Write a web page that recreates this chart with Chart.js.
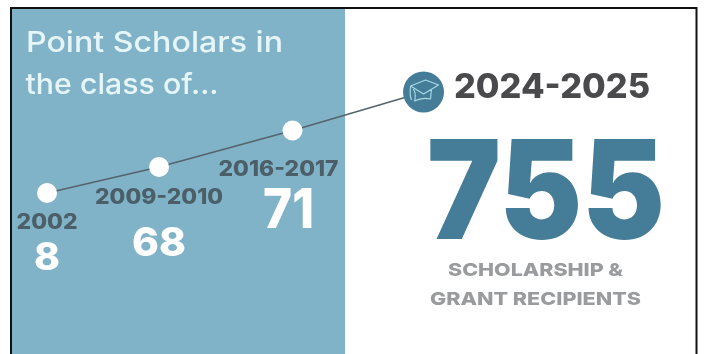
<!DOCTYPE html>
<html>
<head>
<meta charset="utf-8">
<style>
  html, body { margin: 0; padding: 0; background: #fff; }
  canvas { display: block; }
</style>
<script src="https://cdn.jsdelivr.net/npm/chart.js@4"></script>
</head>
<body>
<canvas id="chart" width="704" height="354"></canvas>
<script>
// Point Scholars per class period
const periods = ['2002', '2009-2010', '2016-2017', '2024-2025'];
const startYears = [2002, 2009, 2016, 2024];
const scholars = [8, 68, 71, 755];

const pageTitle = ['Point Scholars in', 'the class of...'];
const caption = ['SCHOLARSHIP &', 'GRANT RECIPIENTS'];

// The timeline is schematic, not proportional: each axis maps its known
// values onto chosen fractions of the canvas and interpolates between them.
class SchematicScale extends Chart.LinearScale {
  getPixelForValue(value) {
    const stops = this.options.stops;
    let i = 0;
    while (i < stops.length - 2 && value > stops[i + 1][0]) i++;
    const [v0, f0] = stops[i];
    const [v1, f1] = stops[i + 1];
    const fraction = f0 + (value - v0) / (v1 - v0) * (f1 - f0);
    return this.getPixelForDecimal(fraction);
  }
}
SchematicScale.id = 'schematic';
SchematicScale.defaults = Chart.LinearScale.defaults;
Chart.register(SchematicScale);

const PANEL = '#80b3c7';
const INK = '#4c5f69';
const TEAL = '#457c97';

const fontStack = 'Inter, "Open Sans", sans-serif';

// Draws a text centred on cx, squeezed or stretched to the given width.
function fitted(ctx, text, cx, baseline, size, weight, width, color) {
  ctx.save();
  ctx.font = `${weight} ${size}px ${fontStack}`;
  ctx.fillStyle = color;
  ctx.textAlign = 'center';
  ctx.textBaseline = 'alphabetic';
  const natural = ctx.measureText(text).width;
  ctx.translate(cx, baseline);
  ctx.scale(width / natural, 1);
  ctx.fillText(text, 0, 0);
  ctx.restore();
}

const backdrop = {
  id: 'backdrop',
  beforeDraw(chart) {
    const { ctx } = chart;
    ctx.save();
    ctx.fillStyle = '#fff';
    ctx.fillRect(0, 0, 704, 354);
    ctx.fillStyle = PANEL;
    ctx.fillRect(12, 9, 333, 345);
    ctx.strokeStyle = '#111';
    ctx.lineWidth = 2;
    ctx.beginPath();
    ctx.moveTo(11, 356);
    ctx.lineTo(11, 8);
    ctx.lineTo(696.5, 8);
    ctx.lineTo(696.5, 356);
    ctx.stroke();
    ctx.restore();
  }
};

// Offsets and sizes of the text set beside each timeline point.
const periodStyle = [
  { dx: 0, dy: 36, size: 21, width: 61 },
  { dx: 0, dy: 37, size: 21, width: 128 },
  { dx: -14, dy: 46, size: 21, width: 120 }
];
const countStyle = [
  { dx: 0, dy: 77, size: 38, width: 26 },
  { dx: 0, dy: 89, size: 40, width: 54 },
  { dx: -4, dy: 98, size: 55, width: 51 }
];

const annotations = {
  id: 'annotations',
  afterDatasetsDraw(chart) {
    const { ctx } = chart;
    const pts = chart.getDatasetMeta(0).data;

    fitted(ctx, pageTitle[0], 154.5, 52, 29, 500, 257, '#e6f5f7');
    fitted(ctx, pageTitle[1], 122, 94, 29, 500, 193, '#e6f5f7');

    periodStyle.forEach((s, i) => {
      fitted(ctx, periods[i], pts[i].x + s.dx, pts[i].y + s.dy, s.size, 800, s.width, INK);
    });
    countStyle.forEach((s, i) => {
      fitted(ctx, String(scholars[i]), pts[i].x + s.dx, pts[i].y + s.dy, s.size, 800, s.width, '#fff');
    });

    const last = pts[3];
    fitted(ctx, periods[3], 552, 98, 34, 800, 196, '#4a4a4c');
    fitted(ctx, String(scholars[3]), 546, 239, 138, 900, 238, TEAL);
    fitted(ctx, caption[0], 535.5, 276, 18, 800, 175, '#999b9d');
    fitted(ctx, caption[1], 535.5, 305, 18, 800, 211, '#999b9d');

    // Graduation cap on the final marker
    ctx.save();
    ctx.translate(last.x, last.y);
    ctx.strokeStyle = '#a9dbe6';
    ctx.lineWidth = 1.1;
    ctx.lineJoin = 'round';
    ctx.beginPath();
    ctx.moveTo(-13, -6);
    ctx.lineTo(2, -12);
    ctx.lineTo(15, -7);
    ctx.lineTo(0, 2);
    ctx.closePath();
    ctx.moveTo(-10, -3);
    ctx.quadraticCurveTo(-7, 3, -9, 9);
    ctx.quadraticCurveTo(-1, 5, 7, 7);
    ctx.lineTo(8, -3);
    ctx.moveTo(-13, -6);
    ctx.quadraticCurveTo(-14, 4, -12, 8);
    ctx.stroke();
    ctx.restore();
  }
};

new Chart(document.getElementById('chart'), {
  type: 'line',
  data: {
    datasets: [{
      data: startYears.map((year, i) => ({ x: year, y: scholars[i] })),
      borderColor: '#55646c',
      borderWidth: 1.6,
      tension: 0,
      pointRadius: [10, 10, 10, 20.5],
      pointBorderWidth: 0,
      pointBackgroundColor: ['#fff', '#fff', '#fff', TEAL]
    }]
  },
  options: {
    responsive: false,
    animation: false,
    layout: { padding: 0, autoPadding: false },
    plugins: { legend: { display: false }, tooltip: { enabled: false } },
    scales: {
      x: {
        type: 'schematic',
        display: false,
        min: 2002,
        max: 2024,
        stops: [[2002, 0.0668], [2009, 0.2259], [2016, 0.4155], [2024, 0.6016]]
      },
      y: {
        type: 'schematic',
        display: false,
        min: 8,
        max: 755,
        stops: [[8, 0.4548], [68, 0.5282], [71, 0.6314], [755, 0.7401]]
      }
    }
  },
  plugins: [backdrop, annotations]
});
</script>
</body>
</html>
